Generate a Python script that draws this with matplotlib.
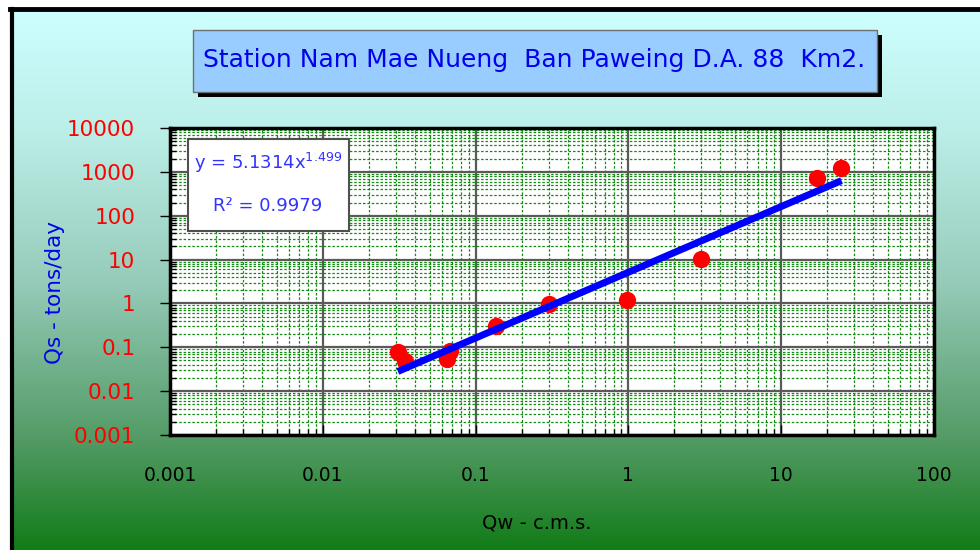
import numpy as np
import matplotlib
matplotlib.use("Agg")
import matplotlib.pyplot as plt
from matplotlib.patches import Rectangle
from matplotlib.lines import Line2D
from matplotlib.ticker import LogLocator, NullFormatter

# data
qw = [0.031, 0.0344, 0.0676, 0.0646, 0.137, 0.301, 0.98, 2.99, 17.1, 24.8]
qs = [0.077, 0.048, 0.083, 0.055, 0.305, 0.95, 1.19, 10.4, 742, 1213]

# power trend line y = a * x^b
coef_a = 5.1314
coef_b = 1.499
r2 = 0.9979

x_ticks = [0.001, 0.01, 0.1, 1, 10, 100]
x_labels = ["0.001", "0.01", "0.1", "1", "10", "100"]
y_ticks = [0.001, 0.01, 0.1, 1, 10, 100, 1000, 10000]
y_labels = ["0.001", "0.01", "0.1", "1", "10", "100", "1000", "10000"]

title = "Station Nam Mae Nueng  Ban Paweing D.A. 88  Km2."

plt.rcParams['font.family'] = ['DejaVu Sans']

W, H = 980, 550


def fx(px):
    return px / W


def fy(py):
    return 1 - py / H


fig = plt.figure(figsize=(9.8, 5.5), dpi=100)
fig.patch.set_facecolor('white')

# gradient background (cyan -> green)
bg = fig.add_axes([fx(11), 0, 1 - fx(11), fy(9)], zorder=0)
stop_pos = [0.0, 0.22, 0.5, 0.8, 1.0]
stop_col = ["#ccffff", "#bcefe8", "#97ccbb", "#529a64", "#127c18"]
rgb = np.array([matplotlib.colors.to_rgb(c) for c in stop_col])
t = np.linspace(0, 1, 300)
grad = np.stack([np.interp(t, stop_pos, rgb[:, k]) for k in range(3)], axis=1)
bg.imshow(grad[:, None, :], aspect='auto', extent=[0, 1, 0, 1])
bg.set_axis_off()

# border lines top and left
fig.add_artist(Line2D([fx(10), 1], [fy(9), fy(9)], color='black', lw=3.5))
fig.add_artist(Line2D([fx(11.5), fx(11.5)], [0, fy(9)], color='black', lw=3))

# title box with shadow
fig.add_artist(Rectangle((fx(198), fy(97)), fx(684), 62 / H, facecolor='black',
                         edgecolor='none', zorder=3))
fig.add_artist(Rectangle((fx(193), fy(92)), fx(684), 62 / H, facecolor='#99ccff',
                         edgecolor='#707070', lw=1, zorder=4))
fig.text(fx(534), fy(60), title, color='#0000ee', fontsize=18,
         ha='center', va='center', zorder=5)

# main axes
ax = fig.add_axes([fx(170), fy(435), fx(934) - fx(170), fy(128) - fy(435)], zorder=2)
ax.set_facecolor('white')
ax.set_xscale('log')
ax.set_yscale('log')
ax.set_xlim(1e-3, 1e2)
ax.set_ylim(1e-3, 1e4)

ax.xaxis.set_minor_locator(LogLocator(base=10, subs=np.arange(2, 10), numticks=30))
ax.yaxis.set_minor_locator(LogLocator(base=10, subs=np.arange(2, 10), numticks=30))
ax.xaxis.set_minor_formatter(NullFormatter())
ax.yaxis.set_minor_formatter(NullFormatter())
ax.set_xticks(x_ticks, x_labels)
ax.set_yticks(y_ticks, y_labels)

ax.set_axisbelow(True)
ax.grid(which='minor', color='#138a13', lw=0.9, ls=(0, (2, 1.5)))
ax.grid(which='major', color='#5a5a5a', lw=1.6)

ax.scatter(qw, qs, s=155, color='#ff0000', zorder=3, linewidths=0)
xl = np.array([min(qw), max(qw)])
ax.plot(xl, coef_a * xl ** coef_b, color='#0000ff', lw=5, solid_capstyle='butt', zorder=4)

for s in ax.spines.values():
    s.set_linewidth(2.5)
    s.set_color('black')

ax.tick_params(axis='y', which='major', direction='out', length=7, width=1,
               pad=18, labelsize=15.5, labelcolor='#ff0000')
ax.tick_params(axis='x', which='major', direction='in', length=7, width=1,
               pad=22, labelsize=13.5, labelcolor='black')
ax.tick_params(which='minor', direction='in', length=4, width=1, color='black')

fig.text(fx(55), fy(292), "Qs - tons/day", rotation=90, color='#0000ee',
         fontsize=15.5, ha='center', va='center')
fig.text(fx(537), fy(523), "Qw - c.m.s.", color='black', fontsize=14,
         ha='center', va='center')

# equation box
fig.add_artist(Rectangle((fx(188), fy(231)), fx(161), 92 / H, facecolor='white',
                         edgecolor='#505050', lw=1.5, zorder=6))
fig.text(fx(268), fy(163), "y = 5.1314x$^{1.499}$", color='#3333ff', fontsize=13,
         ha='center', va='center', zorder=7)
fig.text(fx(268), fy(206), "R² = %.4f" % r2, color='#3333ff', fontsize=13,
         ha='center', va='center', zorder=7)

fig.savefig("out.png", dpi=100)
